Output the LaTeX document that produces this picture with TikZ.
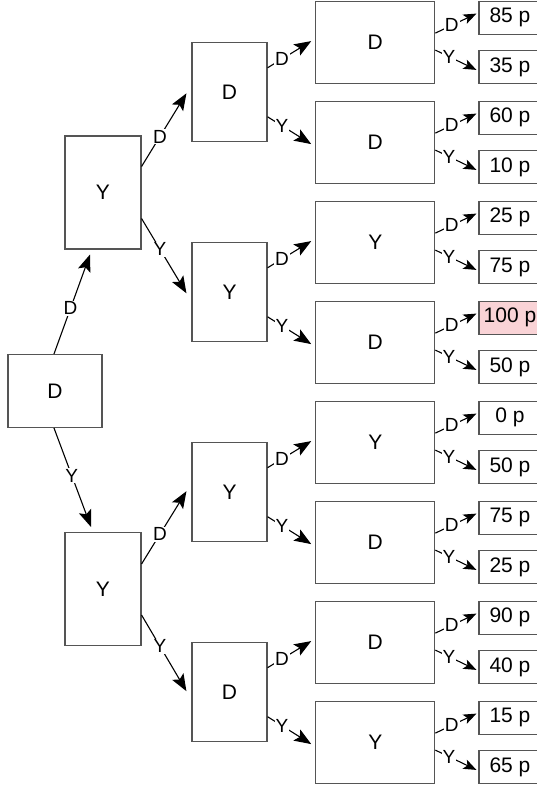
\documentclass[tikz,border=0pt]{standalone}
\usepackage{fontspec}
\setmainfont{Liberation Sans}
\usetikzlibrary{arrows.meta,calc}
\definecolor{boxgray}{HTML}{555555}
\definecolor{pinkfill}{HTML}{F9D3D6}
\begin{document}
\begin{tikzpicture}[x=1pt,y=-1pt,
  box/.style={draw=boxgray, line width=1.1pt, fill=white, inner sep=0pt, font=\fontsize{21}{25}\selectfont},
  rootbox/.style={box, minimum width=94pt, minimum height=73pt},
  lonebox/.style={box, minimum width=76pt, minimum height=113pt},
  ltwobox/.style={box, minimum width=75pt, minimum height=99pt},
  lthreebox/.style={box, minimum width=119pt, minimum height=82pt},
  leaf/.style={box, minimum width=62pt, minimum height=33pt},
  pinkbox/.style={fill=pinkfill},
  plainbox/.style={},
  arr/.style={line width=1.1pt, -{Stealth[length=17pt,width=13pt,inset=3.5pt]}},
  arrs/.style={line width=1.1pt, -{Stealth[length=13pt,width=10pt,inset=3pt]}},
  lbl/.style={fill=white, inner sep=1pt, font=\fontsize{19}{22}\selectfont},
]
\useasboundingbox (0,0) rectangle (537,786);
% root and level 1
\node[rootbox] (r) at (55,391) {D};
\node[lonebox] (a) at (103,192.5) {Y};
\node[lonebox] (b) at (103,589) {Y};
% level 2
\node[ltwobox] (aa) at (229.5,92.3) {D};
\node[ltwobox] (ab) at (229.5,292.3) {Y};
\node[ltwobox] (ba) at (229.5,492.2) {Y};
\node[ltwobox] (bb) at (229.5,692.2) {D};
% level 3 and leaves
\foreach \i/\t/\p/\q/\f in {0/D/85/35/plainbox, 1/D/60/10/plainbox, 2/Y/25/75/plainbox, 3/D/100/50/pinkbox, 4/Y/0/50/plainbox, 5/D/75/25/plainbox, 6/D/90/40/plainbox, 7/Y/15/65/plainbox} {
  \node[lthreebox] (c\i) at (375.3,{42.1+100*\i}) {\t};
  \node[leaf,\f] (c\i d) at (510,{17.6+100*\i}) {\p\ p};
  \node[leaf] (c\i y) at (510,{67.4+100*\i}) {\q\ p};
  \draw[arrs] ($(c\i.east)+(0,-9)$) -- node[lbl,pos=0.4]{D} ($(c\i d.west)+(-2,-4)$);
  \draw[arrs] ($(c\i.east)+(0,8)$) -- node[lbl,pos=0.33]{Y} ($(c\i y.west)+(-2,2.5)$);
}
% root to level 1
\draw[arr] ($(r.north)+(-1,0)$) -- node[lbl,pos=0.46]{D} ($(a.south)+(-13,5)$);
\draw[arr] ($(r.south)+(-1,0)$) -- node[lbl,pos=0.48]{Y} ($(b.north)+(-12,-5)$);
% level 1 to level 2
\draw[arr] ($(a.east)+(0,-26)$) -- node[lbl,pos=0.41]{D} ($(aa.west)+(-5,1)$);
\draw[arr] ($(a.east)+(0,26)$) -- node[lbl,pos=0.41]{Y} ($(ab.west)+(-5,1)$);
\draw[arr] ($(b.east)+(0,-25)$) -- node[lbl,pos=0.41]{D} ($(ba.west)+(-5,-1)$);
\draw[arr] ($(b.east)+(0,26)$) -- node[lbl,pos=0.41]{Y} ($(bb.west)+(-5,-1)$);
% level 2 to level 3
\draw[arr] ($(aa.east)+(0,-24.5)$) -- node[lbl,pos=0.33]{D} ($(c0.west)+(-4,-1)$);
\draw[arr] ($(aa.east)+(0,24.5)$) -- node[lbl,pos=0.33]{Y} ($(c1.west)+(-4,2)$);
\draw[arr] ($(ab.east)+(0,-24.5)$) -- node[lbl,pos=0.33]{D} ($(c2.west)+(-4,-1)$);
\draw[arr] ($(ab.east)+(0,24.5)$) -- node[lbl,pos=0.33]{Y} ($(c3.west)+(-4,2)$);
\draw[arr] ($(ba.east)+(0,-24.5)$) -- node[lbl,pos=0.33]{D} ($(c4.west)+(-4,-1)$);
\draw[arr] ($(ba.east)+(0,24.5)$) -- node[lbl,pos=0.33]{Y} ($(c5.west)+(-4,2)$);
\draw[arr] ($(bb.east)+(0,-24.5)$) -- node[lbl,pos=0.33]{D} ($(c6.west)+(-4,-1)$);
\draw[arr] ($(bb.east)+(0,24.5)$) -- node[lbl,pos=0.33]{Y} ($(c7.west)+(-4,2)$);
\end{tikzpicture}
\end{document}
